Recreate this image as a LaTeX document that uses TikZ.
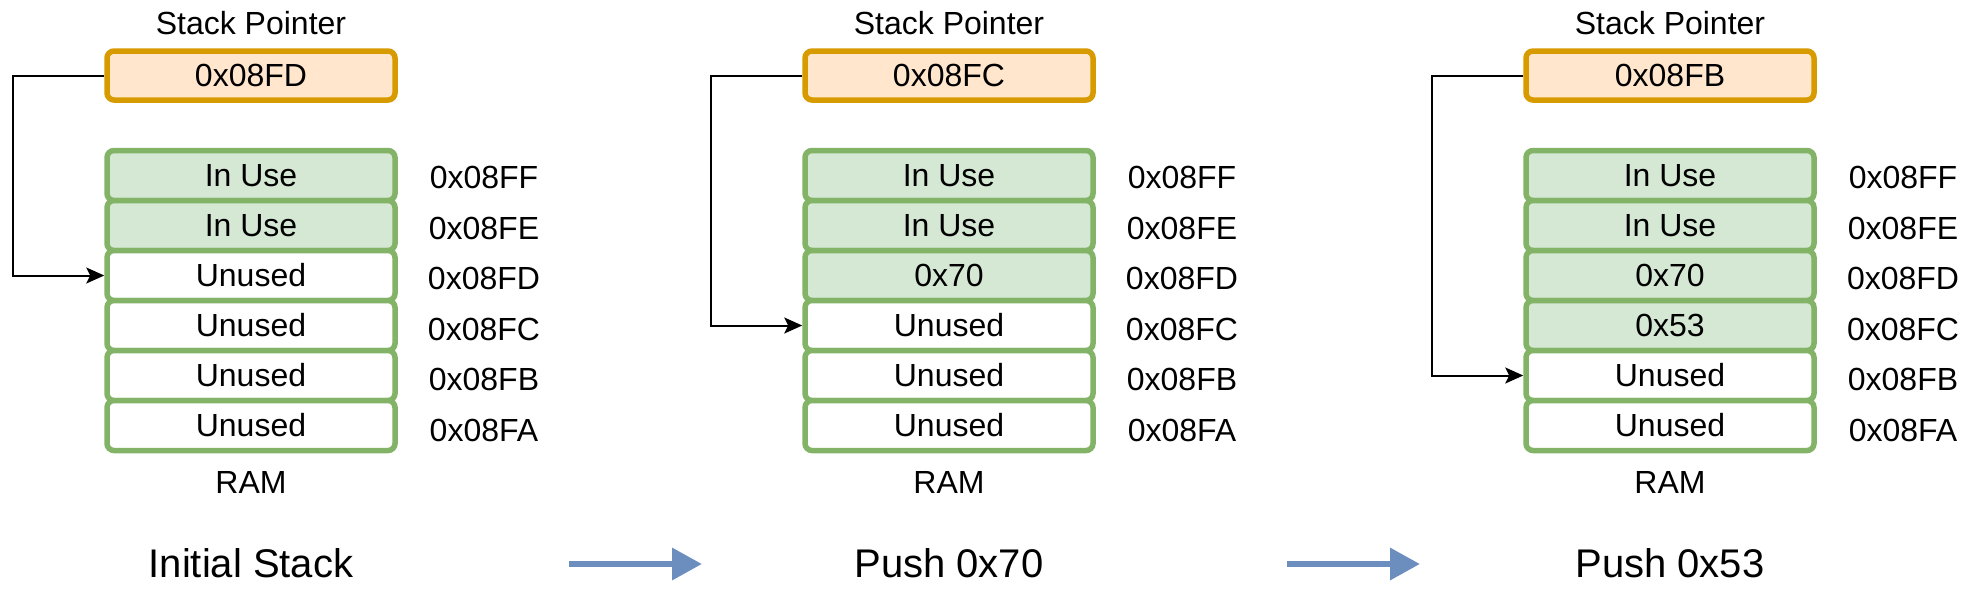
\documentclass[tikz,border=0pt]{standalone}
\usepackage{fontspec}
\setmainfont{Liberation Sans}
\usetikzlibrary{arrows.meta}
\definecolor{spfill}{HTML}{FFE6CC}
\definecolor{spline}{HTML}{D79B00}
\definecolor{ramfill}{HTML}{D5E8D4}
\definecolor{ramline}{HTML}{82B366}
\definecolor{pushline}{HTML}{6C8EBF}
\begin{document}
\begin{tikzpicture}[x=1pt, y=-1pt,
  cell/.style={line width=5.5pt, rounded corners=7pt, inner sep=0pt,
    minimum width=288pt, minimum height=50pt, font=\fontsize{32}{38}\selectfont},
  sp/.style={cell, draw=spline, fill=spfill, minimum height=49pt},
  ram/.style={cell, draw=ramline},
  lbl/.style={font=\fontsize{32}{38}\selectfont},
  title/.style={font=\fontsize{40}{48}\selectfont},
  ptr/.style={-{Stealth[length=18pt, width=16pt, inset=4pt]}, line width=2pt},
  push/.style={-{Triangle[length=30pt, width=31pt]}, line width=6.5pt, draw=pushline}]

\useasboundingbox (0,0) rectangle (1978,598);

\foreach \p/\dx/\ptr/\n/\tgt/\name in {1/0/0x08FD/2/3/Initial Stack,
    2/698/0x08FC/3/4/Push 0x70, 3/1419/0x08FB/4/5/Push 0x53} {
  \node[lbl] (h\p) at (\dx+251, 23) {Stack Pointer};
  \node[sp] (sp\p) at (\dx+251, 75.5) {\ptr};
  \foreach \i/\txt/\adr in {1/In Use/FF, 2/In Use/FE, 3/0x70/FD,
      4/0x53/FC, 5/-/FB, 6/-/FA} {
    \ifnum\i>\n\relax \colorlet{rowfill}{white}\else \colorlet{rowfill}{ramfill}\fi
    \node[ram, fill=rowfill] (r\p-\i) at (\dx+251, 125.5+50*\i)
      {\ifnum\i>\n\relax Unused\else\txt\fi};
    \node[lbl] (a\p-\i) at (\dx+484, 127+50.5*\i) {0x08\adr};
  }
  \node[lbl] (ram\p) at (\dx+251, 482) {RAM};
  \node[title] (t\p) at (\dx+251, 563) {\name};
  \draw[ptr] (sp\p.west) -- ++(-91,0) |- (r\p-\tgt.west);
}

\coordinate (s1) at (569,564);
\coordinate (e1) at (702,564);
\coordinate (s2) at (1287,564);
\coordinate (e2) at (1420,564);
\draw[push] (s1) -- (e1);
\draw[push] (s2) -- (e2);

\end{tikzpicture}
\end{document}
